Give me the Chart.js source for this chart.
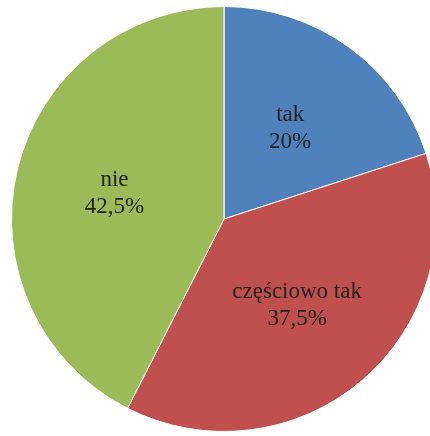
<!DOCTYPE html>
<html lang="pl">
<head>
    <meta charset="UTF-8">
    <title>Wykres kołowy</title>
    <style>
        html, body {
            margin: 0;
            padding: 0;
            background: #fff;
            overflow: hidden;
            width: 430px;
            height: 436px;
        }
        .wrap {
            position: absolute;
            left: 0;
            top: 0;
            width: 448px;
            height: 438px;
        }
    </style>
</head>
<body>
    <div class="wrap">
        <canvas id="pieChart"></canvas>
    </div>

    <script src="https://cdn.jsdelivr.net/npm/chart.js"></script>
    <script>
        const categories = ['tak', 'częściowo tak', 'nie'];
        const shares = [20, 37.5, 42.5];
        const sliceColors = ['#4F81BD', '#C0504D', '#9BBB59'];

        // labels drawn inside each slice: name + percent
        const sliceLabels = {
            id: 'sliceLabels',
            afterDatasetsDraw(chart) {
                const ctx = chart.ctx;
                const meta = chart.getDatasetMeta(0);
                ctx.save();
                ctx.font = '23px "Liberation Serif", "Times New Roman", serif';
                ctx.fillStyle = '#222';
                ctx.textAlign = 'center';
                ctx.textBaseline = 'middle';
                meta.data.forEach((arc, i) => {
                    const p = arc.getProps(['x', 'y', 'startAngle', 'endAngle', 'outerRadius'], true);
                    const mid = (p.startAngle + p.endAngle) / 2;
                    const r = p.outerRadius * 0.53;
                    const x = p.x + Math.cos(mid) * r;
                    const y = p.y + Math.sin(mid) * r;
                    const pct = String(shares[i]).replace('.', ',') + '%';
                    ctx.fillText(categories[i], x, y - 13);
                    ctx.fillText(pct, x, y + 14);
                });
                ctx.restore();
            }
        };

        new Chart(document.getElementById('pieChart'), {
            type: 'pie',
            data: {
                labels: categories,
                datasets: [{
                    data: shares,
                    backgroundColor: sliceColors,
                    borderColor: '#ffffff',
                    borderWidth: 1
                }]
            },
            options: {
                responsive: true,
                maintainAspectRatio: false,
                animation: false,
                layout: { padding: 6 },
                plugins: {
                    legend: { display: false },
                    tooltip: { enabled: false }
                }
            },
            plugins: [sliceLabels]
        });
    </script>
</body>
</html>
